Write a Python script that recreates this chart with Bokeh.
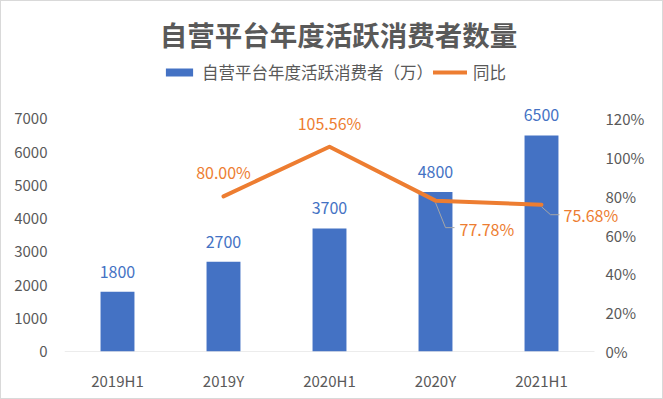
from bokeh.plotting import figure
from bokeh.models import (Range1d, LinearAxis, FixedTicker, ColumnDataSource, LabelSet,
                          Legend, LegendItem, Label, NumeralTickFormatter)
from bokeh.core.properties import value
from bokeh.embed import file_html
from bokeh.resources import INLINE

categories = ["2019H1", "2019Y", "2020H1", "2020Y", "2021H1"]
consumers = [1800, 2700, 3700, 4800, 6500]
yoy_idx = [1, 2, 3, 4]
yoy = [0.8000, 1.0556, 0.7778, 0.7568]
left_ticks = [0, 1000, 2000, 3000, 4000, 5000, 6000, 7000]
right_ticks = [0, 0.2, 0.4, 0.6, 0.8, 1.0, 1.2]

FONT = "Noto Sans CJK SC"
BLUE = "#4472C4"
ORANGE = "#ED7D31"
GREY = "#595959"

W, H = 663, 399
FL, FB, FT = 63, 350, 0          # frame edges in canvas px
BR = 36                          # right border (holds the right axis labels)
FR = W - BR
PX_X = 106.0                     # px per category
PX_PER_UNIT = 33.25 / 1000.0
y_end = (FB - FT) / PX_PER_UNIT
pct_end = y_end / 7000 * 1.2
PX_PCT = 7000 * PX_PER_UNIT / 1.2
x_end = (FR - FL) / PX_X - 0.5
cat_right_px = FL + len(categories) * PX_X   # right edge of the category area

p = figure(width=W, height=H, output_backend="svg", toolbar_location=None,
           x_range=Range1d(-0.5, x_end), y_range=Range1d(0, y_end),
           min_border_left=FL, min_border_right=BR, min_border_top=FT,
           min_border_bottom=H - FB)
p.styles = {"border": "1px solid #d9d9d9", "box-sizing": "border-box"}
p.extra_y_ranges = {"pct": Range1d(0, pct_end)}
p.outline_line_color = None
p.grid.visible = False
p.background_fill_color = "white"
p.border_fill_color = "white"

xa = p.xaxis[0]
xa.ticker = FixedTicker(ticks=list(range(len(categories))))
xa.major_label_overrides = {i: c for i, c in enumerate(categories)}
xa.axis_line_color = None
xa.major_tick_line_color = None
xa.minor_tick_line_color = None
xa.major_label_standoff = 12
xa.major_label_text_font = FONT
xa.major_label_text_font_size = "15px"
xa.major_label_text_color = GREY

# baseline of the category axis spans only the category area
p.segment(x0=[-0.5], y0=[0], x1=[len(categories) - 0.5], y1=[0],
          line_color="#d9d9d9", line_width=1)

ya = p.yaxis[0]
ya.ticker = FixedTicker(ticks=left_ticks)
ya.axis_line_color = None
ya.major_tick_line_color = None
ya.minor_tick_line_color = None
ya.major_label_standoff = 11
ya.major_label_text_font = FONT
ya.major_label_text_font_size = "15px"
ya.major_label_text_color = GREY

ra = LinearAxis(y_range_name="pct", ticker=FixedTicker(ticks=right_ticks),
                formatter=NumeralTickFormatter(format="0%"))
ra.axis_line_color = None
ra.major_tick_line_color = None
ra.minor_tick_line_color = None
ra.major_tick_in = 0
ra.major_tick_out = 0
ra.major_label_standoff = int(round(cat_right_px + 11 - FR))
ra.major_label_text_font = FONT
ra.major_label_text_font_size = "15px"
ra.major_label_text_color = GREY
p.add_layout(ra, "right")

bar_src = ColumnDataSource(dict(x=list(range(len(categories))), y=consumers,
                                lbl=[str(v) for v in consumers]))
bars = p.vbar(x="x", top="y", width=0.32, source=bar_src, fill_color=BLUE, line_color=None)

line_src = ColumnDataSource(dict(x=yoy_idx, y=yoy, lbl=["%.2f%%" % (v * 100) for v in yoy]))

p.add_layout(LabelSet(x="x", y="y", text="lbl", source=bar_src, text_align="center",
                      text_baseline="middle", y_offset=20, text_font=value(FONT),
                      text_font_size=value("16px"), text_color=BLUE))

above_src = ColumnDataSource(dict(x=yoy_idx[:2], y=yoy[:2], lbl=line_src.data["lbl"][:2]))
p.add_layout(LabelSet(x="x", y="y", text="lbl", source=above_src, y_range_name="pct",
                      text_align="center", text_baseline="middle", y_offset=24,
                      text_font=value(FONT), text_font_size=value("16px"),
                      text_color=ORANGE))

# last two labels sit to the lower right, with leader lines
side_src = ColumnDataSource(dict(x=yoy_idx[2:], y=yoy[2:], lbl=line_src.data["lbl"][2:],
                                 xo=[24, 22], yo=[-28, -10]))
p.add_layout(LabelSet(x="x", y="y", text="lbl", source=side_src, y_range_name="pct",
                      x_offset="xo", y_offset="yo", text_align="left",
                      text_baseline="middle", text_font=value(FONT),
                      text_font_size=value("16px"), text_color=ORANGE))
leader = [(10, 27, 19), (9, 10, 18)]
xs, ys = [], []
for xi, yi, (lx, ly, lx2) in zip(yoy_idx[2:], yoy[2:], leader):
    xs.append([xi, xi + lx / PX_X, xi + lx2 / PX_X])
    ys.append([yi - 2 / PX_PCT, yi - ly / PX_PCT, yi - ly / PX_PCT])
p.multi_line(xs=xs, ys=ys, y_range_name="pct", line_color="#a6a6a6", line_width=1)

ln = p.line(x="x", y="y", source=line_src, y_range_name="pct", line_color=ORANGE,
            line_width=4, line_join="round", line_cap="round")

p.add_layout(Label(x=(337 - FL) / PX_X - 0.5, y=(FB - 32) / PX_PER_UNIT,
                   text="自营平台年度活跃消费者数量", text_align="center", text_baseline="middle",
                   text_font=FONT, text_font_size="27.5px", text_font_style="bold",
                   text_color=GREY))

legend = Legend(items=[LegendItem(label="自营平台年度活跃消费者（万）", renderers=[bars]),
                       LegendItem(label="同比", renderers=[ln])],
                location=(161 - FL, FB - 83), orientation="horizontal", margin=0, padding=0,
                spacing=0, glyph_width=34, glyph_height=10, label_standoff=6,
                label_height=20, label_text_font=FONT, label_text_font_size="16.5px",
                label_text_color=GREY, border_line_color=None, background_fill_alpha=0)
p.add_layout(legend)

open("out.html", "w").write(file_html(p, INLINE))
